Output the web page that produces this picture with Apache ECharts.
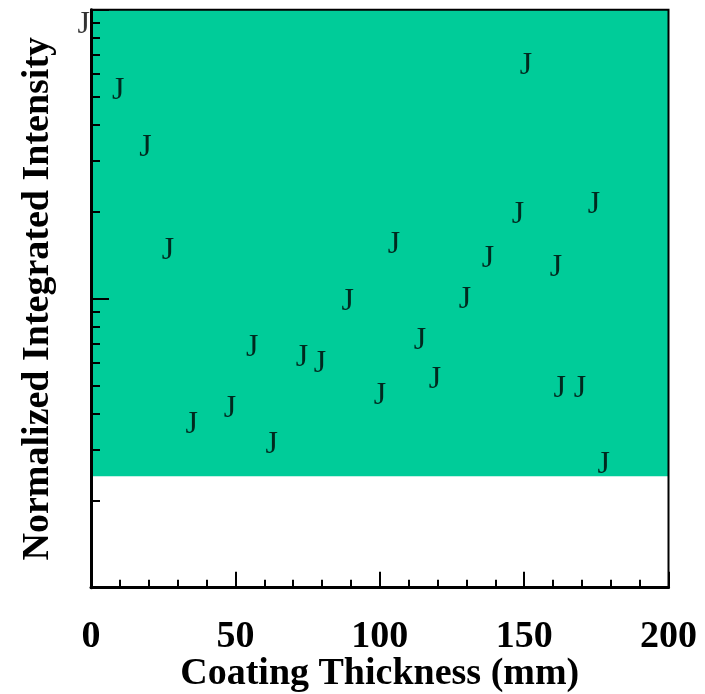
<!DOCTYPE html>
<html>
<head>
<meta charset="utf-8">
<script src="https://cdn.jsdelivr.net/npm/echarts@6/dist/echarts.min.js"></script>
<style>
html,body{margin:0;padding:0;background:#fff;}
#c{width:705px;height:694px;}
</style>
</head>
<body>
<div id="c"></div>
<script>
// Data
const thickness = [-2.5, 9.4, 18.9, 26.7, 34.9, 48.1, 55.8, 62.6, 73.1, 79.3, 88.9, 100.1, 104.9, 113.9, 119.1, 129.5, 137.5, 147.9, 150.6, 161.0, 162.3, 169.3, 174.2, 177.6];
const intensity = [9.03, 5.35, 3.38, 1.49, 0.373, 0.424, 0.686, 0.318, 0.634, 0.604, 0.990, 0.468, 1.565, 0.728, 0.532, 1.006, 1.40, 1.99, 6.49, 1.30, 0.496, 0.496, 2.15, 0.271];
const xTicks = [0, 50, 100, 150, 200];
const yMajorTicks = [0.1, 1, 10];
const yMinorTicks = [0.2, 0.3, 0.4, 0.5, 0.6, 0.7, 0.8, 0.9, 2, 3, 4, 5, 6, 7, 8, 9];
const bandRange = [0.243, 10];
const markerText = 'J';
const xTitle = 'Coating Thickness (mm)';
const yTitle = 'Normalized Integrated Intensity';

const FONT = "'Liberation Serif', 'Times New Roman', serif";
const chart = echarts.init(document.getElementById('c'), null, {renderer: 'canvas'});
const points = thickness.map((x, i) => [x, intensity[i]]);

chart.setOption({
  animation: false,
  backgroundColor: '#ffffff',
  grid: {
    left: 91, right: 36.5, top: 9.7, bottom: 106.3,
    outerBoundsMode: 'none', containLabel: false,
    show: true, borderColor: '#000', borderWidth: 2, backgroundColor: 'transparent', z: 20
  },
  xAxis: {
    type: 'value', min: xTicks[0], max: xTicks[xTicks.length - 1], interval: 50, z: 20,
    name: xTitle, nameLocation: 'middle', nameGap: 67, nameMoveOverlap: false,
    nameTextStyle: {fontFamily: FONT, fontSize: 38, fontWeight: 'bold', color: '#000'},
    axisLine: {show: true, onZero: false, lineStyle: {color: '#000', width: 3}},
    axisTick: {show: true, inside: true, length: 16, lineStyle: {color: '#000', width: 2}},
    minorTick: {show: true, splitNumber: 5, length: 8, lineStyle: {color: '#000', width: 2}},
    splitLine: {show: false},
    axisLabel: {show: true, margin: 30, fontFamily: FONT, fontSize: 38, fontWeight: 'bold', color: '#000',
      customValues: xTicks}
  },
  yAxis: [{
    type: 'log', logBase: 10, min: yMajorTicks[0], max: yMajorTicks[yMajorTicks.length - 1], z: 20,
    name: yTitle, nameLocation: 'middle', nameGap: 34, nameMoveOverlap: false,
    nameTextStyle: {fontFamily: FONT, fontSize: 38, fontWeight: 'bold', color: '#000'},
    axisLine: {show: true, onZero: false, lineStyle: {color: '#000', width: 3}},
    axisTick: {show: true, inside: true, length: 18, lineStyle: {color: '#000', width: 2}},
    axisLabel: {show: false},
    splitLine: {show: false},
    minorTick: {show: false}
  }, {
    type: 'value', min: Math.log10(yMajorTicks[0]), max: Math.log10(yMajorTicks[yMajorTicks.length - 1]),
    position: 'left', offset: 0, z: 20,
    axisLine: {show: false},
    axisTick: {show: true, inside: true, length: 9, lineStyle: {color: '#000', width: 2},
      customValues: yMinorTicks.map(v => Math.log10(v))},
    axisLabel: {show: false},
    splitLine: {show: false}
  }],
  series: [{
    type: 'scatter',
    yAxisIndex: 0,
    data: points,
    clip: false,
    symbol: 'circle',
    symbolSize: 1,
    itemStyle: {color: 'rgba(0,0,0,0)'},
    label: {
      show: true, position: 'inside', formatter: markerText, offset: [0, 2],
      fontFamily: FONT, fontSize: 32, fontWeight: 'normal', color: '#000'
    },
    z: 2,
    markArea: {
      silent: true,
      itemStyle: {color: '#00CC99', opacity: 1},
      data: [[{yAxis: bandRange[0]}, {yAxis: bandRange[1]}]]
    }
  }]
});
</script>
</body>
</html>
